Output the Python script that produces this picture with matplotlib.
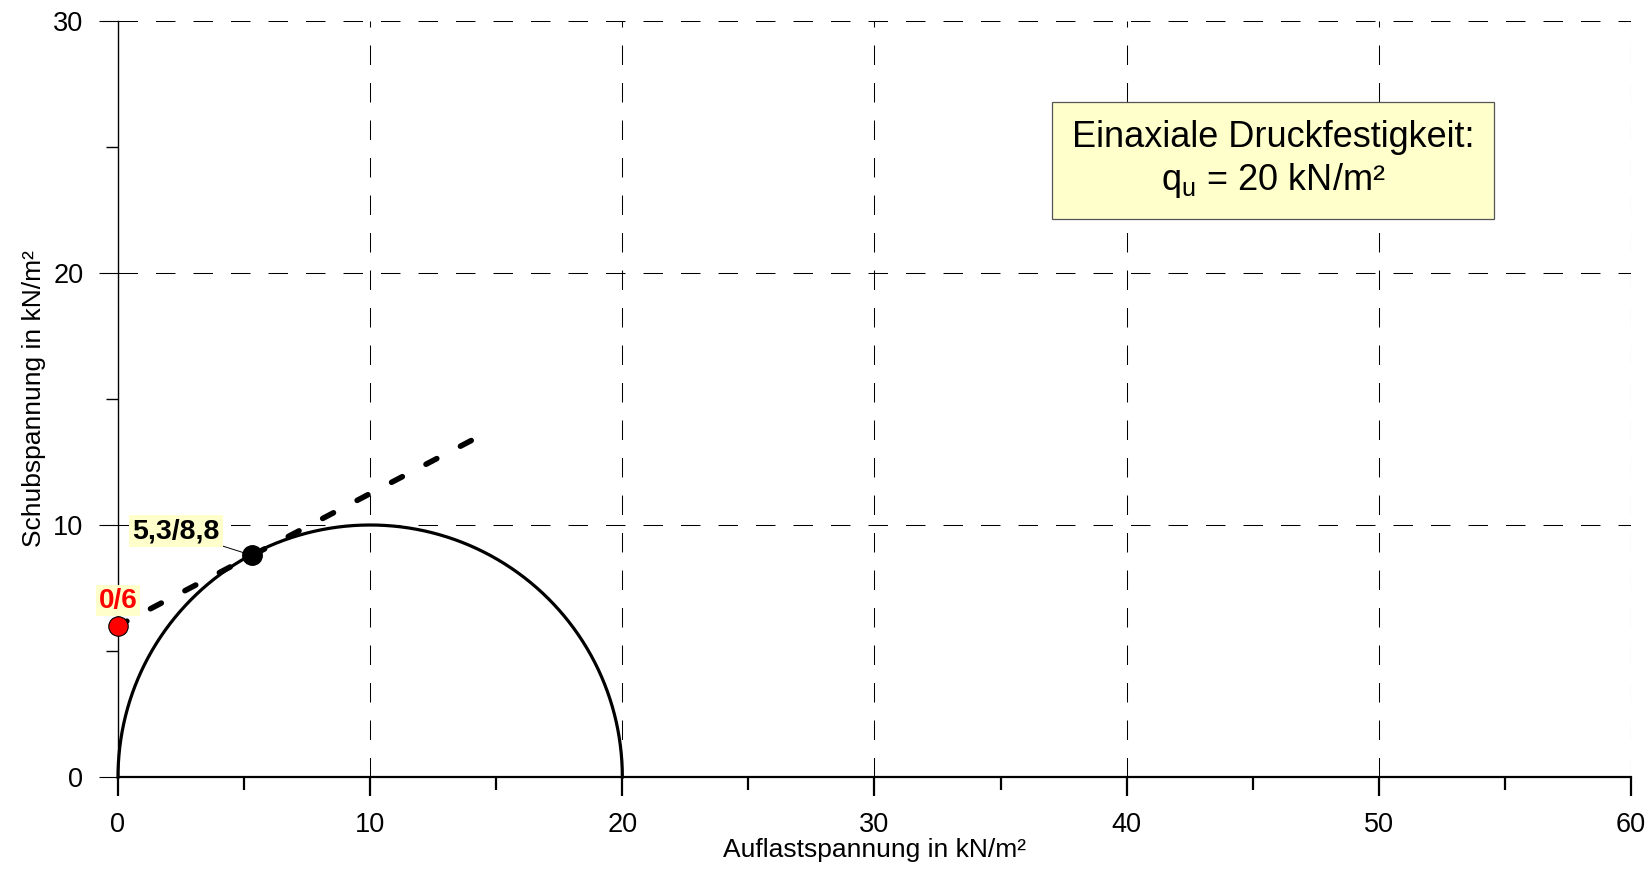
import numpy as np
import matplotlib.pyplot as plt
from matplotlib.ticker import MultipleLocator

plt.rcParams['font.family'] = ['Liberation Sans', 'DejaVu Sans']

# Mohr-Kreis (einaxialer Druckversuch)
q_u = 20.0
kreis_mitte = q_u / 2
kreis_radius = q_u / 2

# Tangente / Scherparameter
tangente_x = [0.0, 14.1]
tangente_y = [6.0, 13.4]

punkt_c = (0.0, 6.0)          # Kohäsion
punkt_t = (5.3, 8.8)          # Tangentenpunkt
label_c = "0/6"
label_t = "5,3/8,8"

x_ticks = [0, 10, 20, 30, 40, 50, 60]
y_ticks = [0, 10, 20, 30]

fig = plt.figure(figsize=(16.49, 8.77), dpi=100)
ax = fig.add_axes([118 / 1649, 1 - 777 / 877, (1631 - 118) / 1649, (777 - 21) / 877])

theta = np.linspace(0, np.pi, 400)
ax.plot(kreis_mitte + kreis_radius * np.cos(theta), kreis_radius * np.sin(theta),
        color='black', lw=2.3, zorder=3, clip_on=False)
ax.plot(tangente_x, tangente_y, color='black', lw=4.0, linestyle=(0.4, (2.2, 4.8)),
        dash_capstyle='round', zorder=3)

ax.plot(*punkt_t, 'o', color='black', markersize=14, zorder=5)
ax.plot(*punkt_c, 'o', color='red', markeredgecolor='black', markeredgewidth=0.8,
        markersize=14, zorder=5, clip_on=False)

gelb = '#ffffcc'
ax.annotate(label_t, xy=punkt_t, xytext=(2.3, 9.75), fontsize=20.5, fontweight='bold',
            ha='center', va='center',
            bbox=dict(boxstyle='square,pad=0.1', fc=gelb, ec='none'),
            arrowprops=dict(arrowstyle='-', color='black', lw=0.7, shrinkA=0, shrinkB=4),
            zorder=6)
ax.text(punkt_c[0], 7.0, label_c, fontsize=20, fontweight='bold', color='red',
        ha='center', va='center',
        bbox=dict(boxstyle='square,pad=0.1', fc=gelb, ec='none'), zorder=6)

ax.text(45.8, 24.5, "Einaxiale Druckfestigkeit:\n$\\mathregular{q_u}$ = 20 kN/m²",
        fontsize=26, ha='center', va='center', linespacing=1.2,
        bbox=dict(boxstyle='square,pad=0.55', fc=gelb, ec='#555555', lw=0.9), zorder=6)

ax.set_xlim(0, 60)
ax.set_ylim(0, 30)
ax.set_xticks(x_ticks)
ax.set_yticks(y_ticks)
ax.xaxis.set_minor_locator(MultipleLocator(5))
ax.yaxis.set_minor_locator(MultipleLocator(5))

for s in ['top', 'right']:
    ax.spines[s].set_visible(False)
ax.spines['left'].set_linewidth(1.0)
ax.spines['bottom'].set_linewidth(1.6)

ax.tick_params(axis='both', which='major', length=14, labelsize=19.5, pad=11)
ax.tick_params(axis='x', which='major', width=1.6)
ax.tick_params(axis='x', which='minor', length=9, width=1.6)
ax.tick_params(axis='y', which='minor', length=9, width=1.0)

ax.grid(True, which='major', color='black', lw=0.75, linestyle=(0, (18.7, 17.3)))
ax.set_axisbelow(True)

ax.set_xlabel("Auflastspannung in kN/m²", fontsize=19, labelpad=0)
ax.set_ylabel("Schubspannung in kN/m²", fontsize=19, labelpad=5)

fig.savefig('out.png', dpi=100)
